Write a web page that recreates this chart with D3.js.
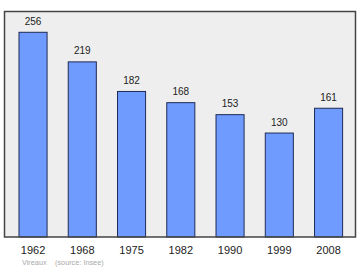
<!DOCTYPE html>
<html>
<head>
<meta charset="utf-8">
<script src="https://cdn.jsdelivr.net/npm/d3@7"></script>
<style>
  body { margin: 0; background: #fff; }
  text { font-family: "Liberation Sans", Arial, sans-serif; }
</style>
</head>
<body>
<svg id="chart" width="360" height="270"></svg>
<script>
const years = ['1962', '1968', '1975', '1982', '1990', '1999', '2008'];
const population = [256, 219, 182, 168, 153, 130, 161];
const place = 'Vireaux';
const source = '(source: Insee)';

const frame = {left: 4.5, top: 11.5, right: 355.5, bottom: 237};

const svg = d3.select('#chart');

// plot background
svg.append('rect')
   .attr('x', frame.left)
   .attr('y', frame.top)
   .attr('width', frame.right - frame.left)
   .attr('height', frame.bottom - frame.top)
   .attr('fill', '#eeeeee');

const x = d3.scaleBand()
  .domain(years)
  .range([8.4, 353.2])
  .paddingInner(0.43)
  .paddingOuter(0.215);

const y = d3.scaleLinear()
  .domain([0, 282])
  .range([frame.bottom, frame.top]);

const bar = svg.selectAll('g.bar')
  .data(population)
  .enter()
  .append('g')
  .attr('class', 'bar');

bar.append('rect')
   .attr('x', (d, i) => x(years[i]))
   .attr('y', (d) => y(d))
   .attr('width', x.bandwidth())
   .attr('height', (d) => frame.bottom - y(d))
   .attr('fill', '#6f9bff')
   .attr('stroke', '#1f2a55')
   .attr('stroke-width', 1);

bar.append('text')
   .attr('x', (d, i) => x(years[i]) + x.bandwidth() / 2)
   .attr('y', (d) => y(d) - 7.5)
   .attr('text-anchor', 'middle')
   .attr('font-size', 10)
   .attr('fill', '#222')
   .text((d) => d);

// frame
svg.append('path')
   .attr('d', `M${frame.left},${frame.top}V${frame.bottom}H${frame.right}V${frame.top}Z`)
   .attr('fill', 'none')
   .attr('stroke', '#444')
   .attr('stroke-width', 1.5);

const xAxis = d3.axisBottom(x).tickSize(0).tickPadding(9);
svg.append('g')
   .attr('transform', `translate(0,${frame.bottom})`)
   .call(xAxis)
   .call((g) => g.select('.domain').remove())
   .call((g) => g.selectAll('text')
     .attr('font-size', 11)
     .attr('fill', '#222')
     .style('font-family', '"Liberation Sans", Arial, sans-serif'));

svg.append('text')
   .attr('x', 22)
   .attr('y', 265)
   .attr('font-size', 7.3)
   .attr('fill', '#aaa')
   .text(place);
svg.append('text')
   .attr('x', 55)
   .attr('y', 265)
   .attr('font-size', 7.3)
   .attr('fill', '#aaa')
   .text(source);
</script>
</body>
</html>
